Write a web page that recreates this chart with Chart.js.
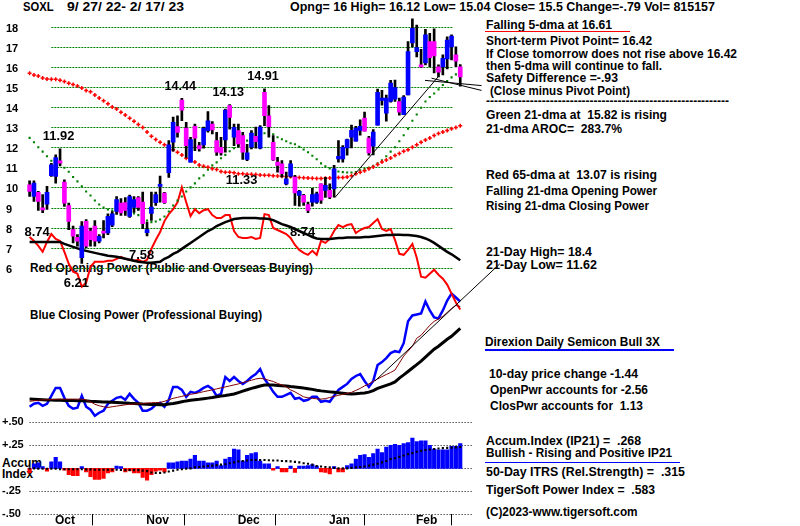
<!DOCTYPE html>
<html>
<head>
<meta charset="utf-8">
<script src="https://cdn.jsdelivr.net/npm/chart.js@4.4.1/dist/chart.umd.min.js"></script>
<style>
  body { margin: 0; background: #fff; }
  #wrap { position: relative; width: 800px; height: 526px; overflow: hidden;
          font: bold 12px "Liberation Sans", Arial, sans-serif; color: #000; }
  #wrap .t { position: absolute; white-space: pre; line-height: 12px; transform-origin: 0 0; }
  #wrap .rule { position: absolute; }
  canvas { position: absolute; left: 0; top: 0; }
</style>
</head>
<body>
<div id="wrap">
  <!-- data-w: text width measured on the reference -->
  <div class="t" data-w="30.6" style="left:23px;top:1px">SOXL</div>
  <div class="t" data-w="117" style="left:67px;top:1px">9/ 27/ 22- 2/ 17/ 23</div>
  <div class="t" data-w="425" style="left:290px;top:1px">Opng= 16 High= 16.12 Low= 15.04 Close= 15.5 Change=-.79 Vol= 815157</div>

  <div class="t" data-w="126" style="left:486px;top:19px">Falling 5-dma at 16.61</div>
  <div class="rule" style="left:485px;top:31px;width:145px;height:1px;background:#f00"></div>
  <div class="t" data-w="166" style="left:486px;top:35.4px">Short-term Pivot Point= 16.42</div>
  <div class="t" data-w="251" style="left:486px;top:47.7px">If Close tomorrow does not rise above 16.42</div>
  <div class="t" data-w="176" style="left:486px;top:60px">then 5-dma will continue to fall.</div>
  <div class="t" data-w="132" style="left:486px;top:72.3px">Safety Difference =-.93</div>
  <div class="t" data-w="140" style="left:490px;top:84.6px">(Close minus Pivot Point)</div>
  <div class="t" data-w="243" style="left:486px;top:95px">-------------------------------------------------------------</div>
  <div class="t" data-w="181" style="left:486px;top:108.9px">Green 21-dma at  15.82 is rising</div>
  <div class="t" data-w="136" style="left:486px;top:123.4px">21-dma AROC=  283.7%</div>
  <div class="t" data-w="171" style="left:486px;top:169.4px">Red 65-dma at  13.07 is rising</div>
  <div class="t" data-w="171" style="left:486px;top:185.4px">Falling 21-dma Opening Power</div>
  <div class="t" data-w="163" style="left:486px;top:200.4px">Rising 21-dma Closing Power</div>
  <div class="t" data-w="106" style="left:486px;top:246.4px">21-Day High= 18.4</div>
  <div class="t" data-w="111" style="left:486px;top:259.4px">21-Day Low= 11.62</div>

  <div class="t" data-w="175" style="left:485px;top:335.9px">Direxion Daily Semicon Bull 3X</div>
  <div class="rule" style="left:485px;top:348.5px;width:189px;height:2px;background:#00f"></div>
  <div class="t" data-w="149" style="left:489px;top:368.4px">10-day price change -1.44</div>
  <div class="t" data-w="158" style="left:490px;top:384.4px">OpenPwr accounts for -2.56</div>
  <div class="t" data-w="153" style="left:490px;top:400.4px">ClosPwr accounts for  1.13</div>
  <div class="t" data-w="155" style="left:485.7px;top:435.4px">Accum.Index (IP21) =  .268</div>
  <div class="t" data-w="186" style="left:485.7px;top:446.9px">Bullish - Rising and Positive IP21</div>
  <div class="rule" style="left:485px;top:461.5px;width:195px;height:1px;background:#00f"></div>
  <div class="t" data-w="199" style="left:486px;top:466.4px">50-Day ITRS (Rel.Strength) =  .315</div>
  <div class="t" data-w="169" style="left:486px;top:484.4px">TigerSoft Power Index =  .583</div>
  <div class="t" data-w="151.6" style="left:485.7px;top:505.9px">(C)2023-www.tigersoft.com</div>

  <div class="t" data-w="283" style="left:30px;top:261.7px">Red Opening Power (Public and Overseas Buying)</div>
  <div class="t" data-w="232" style="left:30px;top:308.9px">Blue Closing Power (Professional Buying)</div>
  <div class="t" style="left:2px;top:456.9px">Accum</div>
  <div class="t" data-w="31" style="left:2px;top:468.4px">Index</div>

  <canvas id="chart" width="800" height="526"></canvas>
</div>

<script>
// ── Data (100 trading days, 9/27/22 .. 2/17/23) ──
const monthNames = ['Oct', 'Nov', 'Dec', 'Jan', 'Feb'];
const monthStart = [4, 25, 46, 67, 87];          // day index of first session
const priceTicks = [6, 7, 8, 9, 10, 11, 12, 13, 14, 15, 16, 17, 18];
const aiTicks      = [0.5, 0.25, 0, -0.25, -0.5];
const aiTickLabels = ['+.50', '+.25', '', '-.25', '-.50'];

const opens = [10.13,9.55,9.75,8.98,9.17,10.58,10.55,11.32,10.26,9.10,
  7.90,7.52,6.50,8.31,7.82,8.07,7.32,7.82,7.74,8.12,
  8.81,9.22,9.25,8.56,9.00,9.50,9.27,7.75,8.70,9.24,
  10.05,9.72,10.73,12.25,13.03,14.35,12.96,11.26,13.04,12.08,
  12.12,12.83,13.16,12.33,12.00,12.36,14.07,12.50,12.83,12.58,
  11.39,12.00,12.54,11.95,14.73,13.57,12.25,11.26,11.17,10.18,
  10.56,10.51,9.60,9.60,9.14,9.27,9.27,10.18,9.85,9.85,
  9.93,11.42,11.42,11.97,12.50,12.30,12.84,13.45,12.46,12.05,
  13.10,14.33,13.70,14.28,14.40,14.28,13.62,14.60,17.20,16.76,
  16.10,16.20,17.26,17.26,16.00,16.00,16.40,17.00,16.60,16.00];
const highs = [10.33,10.33,9.80,9.64,10.05,11.20,11.62,11.92,10.38,9.22,
  8.07,7.65,8.30,8.40,7.98,8.35,7.65,8.35,8.68,8.80,
  9.55,9.45,9.50,9.62,9.55,9.55,9.77,8.28,9.77,9.77,
  10.56,9.75,12.33,13.50,13.57,14.44,13.24,12.50,13.16,12.25,
  13.00,13.78,13.28,12.74,12.50,13.90,14.13,13.16,13.16,12.74,
  12.15,12.83,13.00,13.08,14.91,14.07,12.58,11.50,11.34,10.76,
  11.34,10.60,9.85,9.65,9.27,9.95,9.77,10.18,10.50,10.18,
  11.10,12.33,12.08,12.41,13.10,13.04,13.37,13.75,12.55,12.88,
  14.90,14.83,14.60,15.33,15.35,14.45,14.57,17.26,18.40,18.08,
  16.88,17.87,17.67,17.90,16.10,16.60,17.50,17.60,17.00,16.12];
const lows = [9.55,9.30,8.85,8.74,8.90,10.55,10.21,11.07,9.06,7.90,
  7.24,7.07,6.21,6.99,7.07,7.07,7.24,7.49,7.65,8.05,
  8.65,8.60,8.60,8.50,8.75,8.85,7.95,7.58,8.36,9.10,
  9.27,9.20,10.50,11.80,12.50,13.32,11.50,11.26,11.83,11.80,
  11.95,12.75,12.66,11.59,11.60,11.75,12.90,12.08,12.00,11.40,
  11.33,11.92,11.95,11.92,13.08,12.50,11.34,10.76,10.51,10.13,
  10.51,9.10,9.07,9.10,8.74,9.07,9.20,9.20,9.50,9.44,
  9.52,11.26,11.26,11.60,11.97,12.30,12.60,12.80,11.60,11.62,
  13.10,14.10,13.30,14.25,14.28,13.60,13.62,14.60,17.00,16.50,
  15.98,16.10,16.00,15.70,15.50,15.60,15.90,16.35,16.00,15.04];
const closes = [9.80,10.22,9.30,8.88,9.75,11.12,11.49,11.21,9.22,8.31,
  7.57,7.32,8.07,7.07,7.40,7.32,7.57,7.72,8.56,8.68,
  9.39,8.73,8.85,9.55,9.39,9.00,8.20,7.90,9.02,9.64,
  10.15,9.24,12.12,13.24,12.74,13.85,12.08,12.38,12.45,11.92,
  12.94,13.32,12.86,11.75,11.72,13.85,13.49,12.99,12.17,11.75,
  11.72,12.71,12.28,13.00,13.57,13.02,11.37,11.10,10.68,10.43,
  11.17,9.72,9.80,9.27,8.86,9.64,9.68,9.36,10.10,9.52,
  10.93,11.55,12.00,12.38,12.84,12.96,13.04,12.80,11.72,12.76,
  14.74,14.45,14.45,15.20,14.97,13.75,14.50,16.76,17.92,16.96,
  16.00,17.60,16.46,16.55,15.74,16.43,17.34,17.54,16.29,15.50];

const ma65 = [15.69,15.60,15.55,15.45,15.40,15.39,15.39,15.34,15.28,15.19,
  15.13,15.05,14.95,14.83,14.76,14.60,14.45,14.32,14.17,14.00,
  13.90,13.74,13.60,13.45,13.30,13.13,12.98,12.76,12.55,12.38,
  12.25,12.12,12.00,11.88,11.75,11.62,11.45,11.39,11.26,11.12,
  11.06,11.01,10.93,10.89,10.79,10.76,10.76,10.73,10.68,10.68,
  10.66,10.65,10.64,10.62,10.60,10.60,10.58,10.57,10.56,10.55,
  10.54,10.52,10.50,10.48,10.47,10.46,10.45,10.45,10.46,10.47,
  10.48,10.49,10.50,10.52,10.58,10.68,10.76,10.83,10.93,11.02,
  11.14,11.26,11.36,11.47,11.59,11.69,11.80,11.88,12.00,12.12,
  12.25,12.36,12.46,12.58,12.68,12.76,12.84,12.92,12.98,13.07];
const ma21 = [12.47,12.25,12.00,11.78,11.55,11.33,11.24,11.16,10.98,10.78,
  10.52,10.30,10.05,9.80,9.60,9.35,9.15,9.00,8.90,8.85,
  8.82,8.80,8.78,8.75,8.70,8.62,8.50,8.35,8.27,8.30,
  8.40,8.55,8.80,9.10,9.35,9.55,9.80,10.00,10.20,10.45,
  10.60,10.88,11.10,11.25,11.45,11.62,11.80,11.95,12.10,12.22,
  12.33,12.45,12.55,12.62,12.70,12.75,12.65,12.50,12.40,12.30,
  12.20,12.15,12.02,11.89,11.75,11.58,11.40,11.20,11.05,10.95,
  10.85,10.79,10.76,10.74,10.74,10.76,10.85,10.92,10.98,11.08,
  11.20,11.35,11.55,11.78,12.00,12.30,12.60,12.92,13.32,13.63,
  13.97,14.28,14.50,14.68,14.88,15.10,15.30,15.48,15.63,15.82];

// Opening Power (red) and its 21-dma (black), own unnamed scale
const openPower = [15.5,13.5,11,8,13,17,14.5,13.5,8,2,
  -2,-3,-9.5,-7.5,0.5,3,3,3,3.5,3.5,
  4.5,5.5,4.5,4,3.5,4,3,4,9.5,14,
  18,23.5,27,29.5,33,40.5,33,26,29.5,27.5,
  29,29.5,26.5,25,25,26.5,26.5,18.5,15.5,15,
  15,15.5,14.5,15,27,26.5,20,19,18,17,
  15,11.5,9,7.5,6.5,8.5,6.5,13.5,12.5,14.5,
  18.5,21.5,20.5,21.5,22,17.5,19,20,20.5,22.5,
  24.5,19.5,18.5,19.5,14,7,6.5,9,12,5,
  -4.5,-5,-3,-1,-3.5,-5.5,-8.5,-13,-17.5,-21];
const openPowerMa = [13,13,13,13,13,13,13,13,12,11.25,
  10.5,9.75,9,8.5,8,7.5,7,6.5,6,5.75,
  5.5,5,4.5,4,3.5,3,2.75,2.5,2.5,2.75,
  3,4.5,5.5,7,8,9.5,11,12.5,14,15.5,
  17,18.5,19.5,21,22,23,23.75,24.5,24.75,25,
  25,25,25,24.75,24.75,24.5,24,23,22,21.25,
  20.5,19.5,18.5,17.5,16.5,15.5,14.75,14.5,14.5,14.5,
  14.75,15,15,15.25,15.25,15.25,15.25,15.5,15.5,15.75,
  16,16.25,16.5,16.5,16.65,16.65,16.5,16.5,16.25,16,
  15.5,14.75,13.75,12.5,11,9.5,8,6.75,5.25,3.75];

// Closing Power (blue), its 65-dma (black) and 21-dma (brown)
const closePower = [7,8.5,9,7.5,8.5,12.5,16.5,16.5,11.5,7.5,
  6,6.5,12.5,7,5.5,2.5,4,5,8.5,10,
  11.5,12,10.5,13.5,11,9,5,5,6,8,
  9,7,10.5,17,17,15.5,12,14.5,14,15,
  16.5,17.5,16,12.5,13.5,22,20,22,20,18.5,
  20,22,23.5,26,21,18,14.5,12,12,13,
  14,11,11.5,10,10.5,12,12,9.5,10,9.5,
  12.5,15.5,17,18.5,21,22.5,23.5,20,17,20,
  28,29.5,31.5,34,35,34.5,39,50,53,53.5,
  54,60,55.5,52,51.5,55.5,60.5,64,62,60];
const closePowerMa = [10.85,10.75,10.65,10.55,10.45,10.35,10.3,10.25,10.2,10.2,
  10.15,10.05,10,9.9,9.75,9.65,9.55,9.45,9.35,9.25,
  9.15,9.05,8.95,8.8,8.7,8.55,8.4,8.3,8.2,8.1,
  8,8.05,8.35,8.65,9.05,9.5,9.95,10.25,10.55,10.75,
  11.05,11.35,11.65,12,12.35,12.65,13,13.4,14.1,14.85,
  15.55,16.25,16.85,17.45,17.9,18,17.9,17.75,17.6,17.4,
  17.15,16.95,16.75,16.4,16.1,15.75,15.35,15,14.75,14.5,
  14.25,14,13.75,13.5,13.4,13.6,13.75,13.95,14.35,15.15,
  16.25,17,17.75,18.5,19.5,21.45,23.05,24.75,26.5,28.25,
  30,32,34,36,37.5,39.25,41,42.5,44.5,46.5];
const closePowerMa21 = [9.75,10,10.25,10.5,10.5,10.65,10.75,10.85,10.85,10.85,
  10.85,10.85,10.85,10.5,9.5,8.25,7.5,7,6.65,7,
  7.35,7.65,8,8.25,8.35,8.5,8.65,8.85,9,9.15,
  9.15,9.75,10.5,11.25,11.75,12.25,12.75,13.25,13.65,14.1,
  14.6,15.05,15.5,16,16.5,17,17.5,18,18.5,19.15,
  19.75,20.35,21,21.35,21,20.35,19.75,18.75,18,17,
  15.5,14.5,13.25,12,11.5,11.25,11,10.85,11.1,11.65,
  12.25,12.75,13.25,13.75,14.25,15.25,16.25,17.5,18.5,19.75,
  21,22.15,23.25,24.25,25.5,29,32.5,35,37.5,41.5,
  43,45.5,48,50,51.25,52.5,54.5,56.5,58,57.5];

// Accumulation Index (IP21) and its 21-dma
const accum = [-0.05,0.05,0.06,0.02,-0.03,0.07,0.12,0.07,-0.02,-0.07,
  -0.08,-0.08,0.02,-0.04,-0.09,-0.12,-0.12,-0.11,-0.05,-0.04,
  0.025,0.02,-0.04,-0.025,-0.05,-0.05,-0.10,-0.13,-0.07,-0.03,
  -0.02,-0.04,0.06,0.06,0.07,0.08,0.08,0.10,0.14,0.08,
  0.08,0.06,0.06,0.08,0.03,0.10,0.12,0.21,0.20,0.08,
  0.14,0.16,0.17,0.08,0.05,0.05,-0.02,0.02,-0.04,-0.04,
  0.025,-0.045,0.025,0.025,0.03,0.04,0.025,-0.04,-0.045,-0.06,
  0.02,-0.04,-0.04,0.03,0.05,0.10,0.14,0.15,0.12,0.16,
  0.21,0.17,0.23,0.25,0.26,0.25,0.27,0.28,0.33,0.29,
  0.30,0.30,0.25,0.21,0.20,0.20,0.20,0.24,0.24,0.268];
const accumMa = [0,0,-0.005,-0.005,-0.005,-0.005,-0.005,-0.01,-0.01,-0.01,
  -0.01,-0.01,-0.01,-0.012,-0.012,-0.015,-0.015,-0.015,-0.015,-0.015,
  -0.015,-0.018,-0.02,-0.02,-0.02,-0.02,-0.025,-0.03,-0.045,-0.05,
  -0.05,-0.045,-0.035,-0.025,-0.015,-0.01,-0.005,0,0.01,0.015,
  0.02,0.025,0.03,0.035,0.04,0.045,0.055,0.065,0.075,0.08,
  0.085,0.09,0.09,0.09,0.09,0.088,0.085,0.085,0.08,0.078,
  0.075,0.07,0.065,0.055,0.05,0.04,0.025,0.02,0.015,0.01,
  0.005,0,0,0,0.005,0.01,0.015,0.02,0.03,0.04,
  0.05,0.065,0.08,0.1,0.11,0.125,0.14,0.155,0.165,0.18,
  0.19,0.2,0.205,0.21,0.215,0.22,0.222,0.225,0.228,0.232];

// Trend lines (day index, value)
const priceTrendX = [70.2, 93.9],  priceTrendY = [9.5, 15.5];
const fanAX = [90.9, 103.9],       fanAY = [15.33, 15.07];
const fanBX = [92.4, 103.9],       fanBY = [15.44, 14.83];
const cpTrendX = [79.4, 108.1],    cpTrendY = [20, 79];

// High / low call-outs
const highMarks = [7, 35, 46, 54];
const lowMarks  = [3, 12, 27, 50, 64];

// ── Colours ───────────────────────────────────────────────
const BLUE = '#0000ff', MAGENTA = '#ff00ff', RED = '#ff0000',
      GREEN = '#008000', BLACK = '#000000', BROWN = '#800000';
const FONT = '"Liberation Sans", Arial, sans-serif';

const days = opens.map((_, i) => i);
const pts  = arr => arr.map((v, i) => ({ x: i, y: v }));
const seg  = (xs, ys) => xs.map((x, k) => ({ x, y: ys[k] }));

// ── Fit each caption to the width it has on the reference ─
document.querySelectorAll('#wrap .t[data-w]').forEach(el => {
  const w = el.getBoundingClientRect().width;
  if (w > 0) el.style.transform = `scaleX(${(+el.dataset.w / w).toFixed(4)})`;
});

// ── Gridlines, AI labels and call-outs ────────────────────
const deco = {
  id: 'deco',
  beforeDatasetsDraw(chart) {
    const { ctx, scales: { x, yP, yAI } } = chart;
    ctx.save();
    ctx.lineWidth = 1;
    ctx.strokeStyle = GREEN;
    ctx.setLineDash([2, 1]);
    priceTicks.forEach(v => {
      const y = Math.round(yP.getPixelForValue(v)) + 0.5;
      ctx.beginPath();
      ctx.moveTo(x.getPixelForValue(5), y);
      ctx.lineTo(x.getPixelForValue(97.3), y);
      ctx.stroke();
    });
    ctx.strokeStyle = BLACK;
    ctx.setLineDash([1, 2]);
    aiTicks.forEach(v => {
      const y = Math.round(yAI.getPixelForValue(v)) + 0.5;
      ctx.beginPath();
      ctx.moveTo(x.getPixelForValue(0), y);
      ctx.lineTo(x.getPixelForValue(101.7), y);
      ctx.stroke();
    });
    ctx.setLineDash([]);
    ctx.fillStyle = BLACK;
    ctx.font = 'bold 11px ' + FONT;
    ctx.textBaseline = 'middle';
    ctx.textAlign = 'left';
    aiTicks.forEach((v, k) => {
      if (aiTickLabels[k]) ctx.fillText(aiTickLabels[k], 2, yAI.getPixelForValue(v));
    });
    ctx.restore();
  },
  afterDatasetsDraw(chart) {
    const { ctx, scales: { x, yP } } = chart;
    ctx.save();
    ctx.fillStyle = BLACK;
    ctx.font = 'bold 13px ' + FONT;
    ctx.textAlign = 'center';
    ctx.textBaseline = 'middle';
    // taller, narrow figures like the original's bitmap font
    const callout = (txt, px, py) => ctx.fillText(txt, px, py, txt.length * 6.3);
    highMarks.forEach(i => {
      callout(highs[i].toFixed(2), x.getPixelForValue(i) - 1.5, yP.getPixelForValue(highs[i]) - 12);
    });
    lowMarks.forEach(i => {
      callout(lows[i].toFixed(2), x.getPixelForValue(i) - 5.5, yP.getPixelForValue(lows[i]) + 19.6);
    });
    ctx.restore();
  }
};

const lineDs = (data, axis, color, width, order) => ({
  type: 'line', data, yAxisID: axis, borderColor: color, borderWidth: width,
  pointRadius: 0, tension: 0, order
});

new Chart(document.getElementById('chart'), {
  type: 'line',
  data: {
    datasets: [
      // trend lines on top
      lineDs(seg(priceTrendX, priceTrendY), 'yP', BLACK, 1, 0),
      lineDs(seg(fanAX, fanAY), 'yP', BLACK, 1, 0),
      lineDs(seg(fanBX, fanBY), 'yP', BLACK, 1, 0),
      lineDs(seg(cpTrendX, cpTrendY), 'yCP', BLACK, 1, 0),
      // price bars
      {
        type: 'bar', data: days.map(i => ({ x: i, y: [opens[i], closes[i]] })),
        yAxisID: 'yP', backgroundColor: days.map(i => closes[i] >= opens[i] ? BLUE : MAGENTA),
        barThickness: 4, grouped: false, minBarLength: 1, order: 1
      },
      {
        type: 'bar', data: days.map(i => ({ x: i, y: [lows[i], highs[i]] })),
        yAxisID: 'yP', backgroundColor: BLACK, barThickness: 2, grouped: false, order: 2
      },
      // moving averages as dotted markers
      {
        type: 'line', data: pts(ma65), yAxisID: 'yP', showLine: false,
        pointStyle: 'cross', pointRadius: 2, pointBorderWidth: 1.5,
        pointBorderColor: RED, order: 3
      },
      {
        type: 'line', data: pts(ma21), yAxisID: 'yP', showLine: false,
        pointStyle: 'rect', pointRadius: 1.5, pointBorderWidth: 0,
        pointBackgroundColor: GREEN, order: 3
      },
      // accumulation index
      {
        type: 'line', data: pts(accumMa), yAxisID: 'yAI', showLine: false,
        pointStyle: 'rect', pointRadius: 1.5, pointBorderWidth: 0,
        pointBackgroundColor: BLACK, order: 3
      },
      {
        type: 'bar', data: pts(accum), yAxisID: 'yAI',
        backgroundColor: accum.map(v => v >= 0 ? BLUE : RED),
        barThickness: 3.5, grouped: false, order: 4
      },
      // power lines
      lineDs(pts(openPowerMa), 'yOP', BLACK, 2.5, 5),
      lineDs(pts(openPower), 'yOP', RED, 2, 6),
      lineDs(pts(closePowerMa21), 'yCP', BROWN, 1, 5),
      lineDs(pts(closePowerMa), 'yCP', BLACK, 3, 6),
      lineDs(pts(closePower), 'yCP', BLUE, 2.5, 7),
    ]
  },
  options: {
    responsive: false,
    animation: false,
    events: [],
    layout: { padding: { left: 6, top: 3, right: 295, bottom: 0 } },
    plugins: { legend: { display: false }, tooltip: { enabled: false } },
    scales: {
      x: {
        type: 'linear', min: -0.8276, max: 109.29, offset: false,
        afterBuildTicks: s => { s.ticks = monthStart.map(v => ({ value: v })); },
        afterFit: s => { s.height = 11.7; },
        grid: { drawOnChartArea: false, drawTicks: true, tickLength: 11, color: BLACK, lineWidth: 1 },
        border: { display: false },
        ticks: {
          autoSkip: false, maxRotation: 0, align: 'start', labelOffset: 8, padding: -12,
          color: BLACK, font: { family: FONT, size: 12, weight: 'bold' },
          callback: v => monthNames[monthStart.indexOf(v)]
        }
      },
      yP: {
        position: 'left', min: -6.277, max: 19.004,
        afterBuildTicks: s => { s.ticks = priceTicks.map(v => ({ value: v })); },
        afterFit: s => { s.width = 20; },
        grid: { display: false },
        border: { display: false },
        ticks: {
          autoSkip: false, crossAlign: 'far', padding: 0, labelOffset: 2,
          color: BLACK, font: { family: FONT, size: 11, weight: 'bold' }
        }
      },
      yOP: { display: false, min: -124.15, max: 131.5 },
      yCP: { display: false, min: -47.15, max: 208.5 },
      yAI: { display: false, min: -0.5, max: 5.0216 }
    }
  },
  plugins: [deco]
});
</script>
</body>
</html>
